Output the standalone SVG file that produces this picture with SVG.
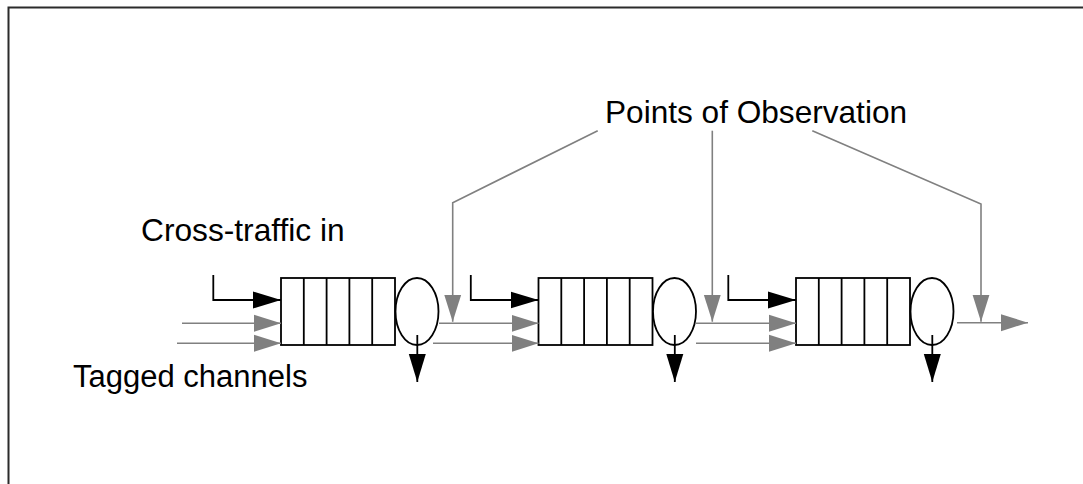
<svg xmlns="http://www.w3.org/2000/svg" width="1083" height="484" viewBox="0 0 1083 484">
<style>
text{font-family:"Liberation Sans",Arial,sans-serif;font-size:31px;fill:#000}
.q{fill:#fff;stroke:#000;stroke-width:1.8}
.d{stroke:#000;stroke-width:1.8;fill:none}
.bk{stroke:#000;stroke-width:1.8;fill:none;marker-end:url(#ab)}
.gr{stroke:#808080;stroke-width:1.6;fill:none;marker-end:url(#ag)}
</style>
<defs>
<marker id="ab" markerUnits="userSpaceOnUse" markerWidth="28" markerHeight="18" viewBox="0 0 28 18" refX="28" refY="9" orient="auto"><path d="M0,0.5 L28,9 L0,17.5 z" fill="#000"/></marker>
<marker id="ag" markerUnits="userSpaceOnUse" markerWidth="27" markerHeight="18" viewBox="0 0 27 18" refX="27" refY="9" orient="auto"><path d="M0,0.5 L27,9 L0,17.5 z" fill="#808080"/></marker>
</defs>
<rect x="0" y="0" width="1083" height="484" fill="#fff"/>
<rect x="8.5" y="7.5" width="1090" height="500" fill="none" stroke="#2b2b2b" stroke-width="2"/>
<g id="labels">
<text id="label-points" x="605" y="123" style="font-size:31.6px">Points of Observation</text>
<text id="label-cross" x="141" y="241" style="font-size:31.7px">Cross-traffic in</text>
<text id="label-tagged" x="73" y="387">Tagged channels</text>
</g>
<g id="queue1">
<rect class="q" x="281" y="278" width="114" height="67"/>
<path class="d" d="M303.8,278V345M326.6,278V345M349.4,278V345M372.2,278V345"/>
<ellipse class="q" cx="417" cy="311.5" rx="21.5" ry="33.5"/>
</g>
<g id="queue2">
<rect class="q" x="538.5" y="278" width="114" height="67"/>
<path class="d" d="M561.3,278V345M584.1,278V345M606.9,278V345M629.7,278V345"/>
<ellipse class="q" cx="674.5" cy="311.5" rx="21.5" ry="33.5"/>
</g>
<g id="queue3">
<rect class="q" x="796" y="278" width="114" height="67"/>
<path class="d" d="M818.8,278V345M841.6,278V345M864.4,278V345M887.2,278V345"/>
<ellipse class="q" cx="932" cy="311.5" rx="21.5" ry="33.5"/>
</g>
<g id="connectors">
<path class="bk" d="M213.3,275V300H281"/>
<path class="bk" d="M470.8,275V300H538.5"/>
<path class="bk" d="M728.3,275V300H796"/>
<path class="bk" d="M417.3,335V382"/>
<path class="bk" d="M674.8,335V382"/>
<path class="bk" d="M932.3,335V382"/>
<path class="gr" d="M182,323.3H281"/>
<path class="gr" d="M177,343.3H281"/>
<path class="gr" d="M439,323.3H538.5"/>
<path class="gr" d="M433,343.3H538.5"/>
<path class="gr" d="M696,323.3H796"/>
<path class="gr" d="M696,343.3H796"/>
<path class="gr" d="M957,322.7H1028"/>
<path class="gr" d="M597.7,130.7L452.7,202.7V321.7"/>
<path class="gr" d="M712.3,130.7V321.7"/>
<path class="gr" d="M812.3,130.7L981,204V321.7"/>
</g>
</svg>
